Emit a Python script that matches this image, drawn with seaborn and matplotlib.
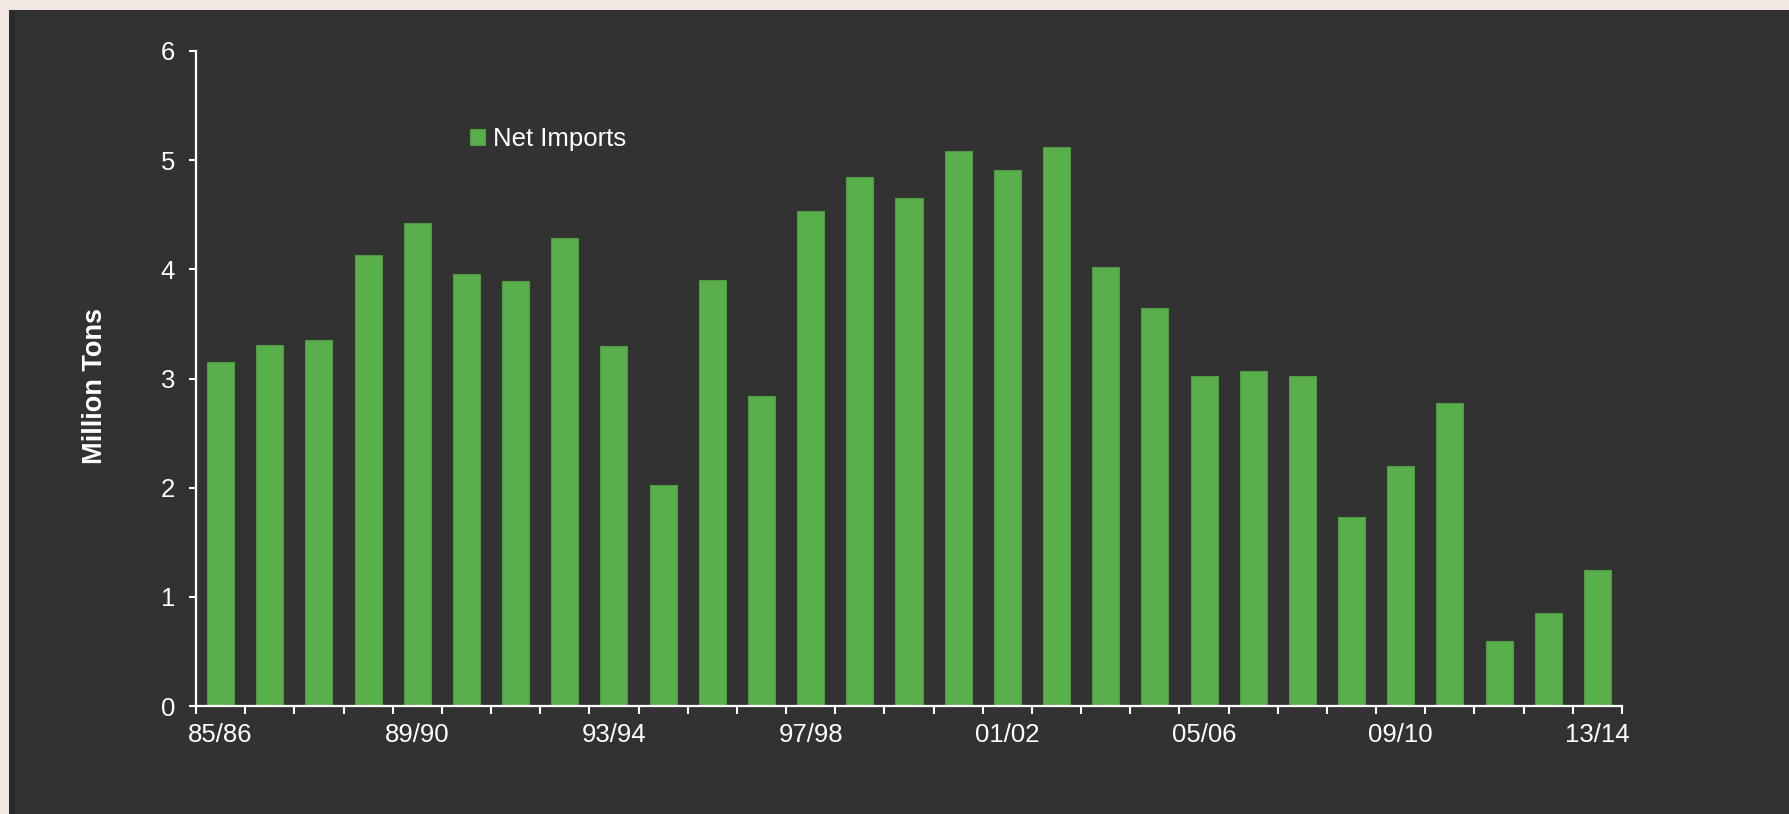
import numpy as np
import pandas as pd
import matplotlib
matplotlib.use('Agg')
from matplotlib import pyplot as plt
from matplotlib.patches import Rectangle
from matplotlib.ticker import FixedLocator
import seaborn as sns

# Data
seasons = ['85/86', '86/87', '87/88', '88/89', '89/90', '90/91', '91/92', '92/93',
           '93/94', '94/95', '95/96', '96/97', '97/98', '98/99', '99/00', '00/01',
           '01/02', '02/03', '03/04', '04/05', '05/06', '06/07', '07/08', '08/09',
           '09/10', '10/11', '11/12', '12/13', '13/14']
net_imports = [3.15, 3.31, 3.35, 4.13, 4.42, 3.96, 3.89, 4.29, 3.30, 2.02,
               3.90, 2.84, 4.53, 4.85, 4.65, 5.08, 4.91, 5.12, 4.02, 3.65,
               3.02, 3.07, 3.02, 1.73, 2.20, 2.78, 0.60, 0.85, 1.25]
y_ticks = [0, 1, 2, 3, 4, 5, 6]

df = pd.DataFrame({'season': seasons, 'Net Imports': net_imports})

bar_green = '#59AF4B'
panel = '#323232'
white = '#FFFFFF'

sns.set_theme(style='white')
plt.rcParams['font.family'] = ['Liberation Sans', 'DejaVu Sans']

fig = plt.figure(figsize=(17.89, 8.14), dpi=100, facecolor='#F2E8E1')
# dark panel behind the chart
fig.patches.append(Rectangle((9 / 1789, 0), 1 - 9 / 1789, 1 - 10 / 814,
                             transform=fig.transFigure, facecolor=panel,
                             edgecolor='none', zorder=-2))
fig.patches.append(Rectangle((9 / 1789, 0), 6 / 1789, 1 - 10 / 814,
                             transform=fig.transFigure, facecolor='#2A2A2A',
                             edgecolor='none', zorder=-1))

ax = fig.add_axes([196 / 1789, 1 - 706 / 814, 1426 / 1789, 655 / 814])
ax.set_facecolor('none')

sns.barplot(data=df, x='season', y='Net Imports', color=bar_green, width=0.55,
            saturation=1, label='Net Imports', ax=ax, edgecolor='#4F9A43', linewidth=0.8)

ax.set_xlim(-0.5, len(seasons) - 0.5)
ax.set_ylim(0, 6)
ax.set_yticks(y_ticks)
ax.set_yticklabels([str(t) for t in y_ticks])

# labels every fourth season, tick marks on category boundaries
ax.set_xticks(range(len(seasons)))
ax.set_xticklabels([s if i % 4 == 0 else '' for i, s in enumerate(seasons)])
ax.xaxis.set_minor_locator(FixedLocator(np.arange(-0.5, len(seasons), 1.0)))
ax.tick_params(axis='x', which='major', length=0, pad=12, colors=white, labelsize=18.5)
ax.tick_params(axis='x', which='minor', length=6, width=1.5, color=white, bottom=True)
ax.tick_params(axis='y', length=5, width=1.5, colors=white, labelsize=18.5, pad=10, left=True)

for side in ['top', 'right']:
    ax.spines[side].set_visible(False)
for side in ['left', 'bottom']:
    ax.spines[side].set_color(white)
    ax.spines[side].set_linewidth(1.6)

ax.set_xlabel('')
ax.set_ylabel('Million Tons', color=white, fontsize=19.5, fontweight='bold')
ax.yaxis.set_label_coords(-0.0617, 0.488)

leg = ax.legend(loc='center left', bbox_to_anchor=(0.192, 0.866), frameon=False,
                fontsize=18.5, handlelength=0.6, handleheight=0.6, handletextpad=0.3,
                borderpad=0, borderaxespad=0)
for t in leg.get_texts():
    t.set_color(white)

fig.savefig('out.png', dpi=100, facecolor=fig.get_facecolor())
